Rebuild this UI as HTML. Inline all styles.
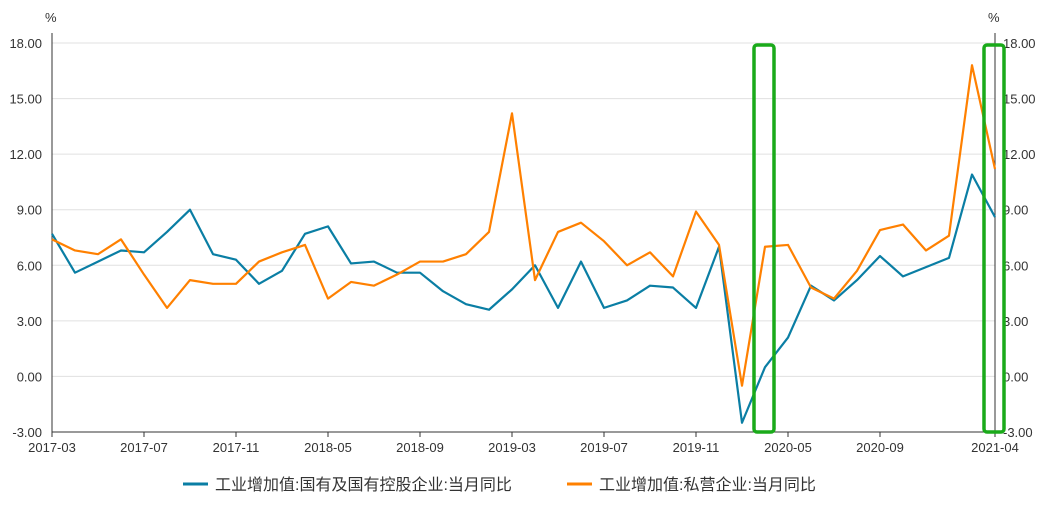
<!DOCTYPE html>
<html><head><meta charset="utf-8"><style>
body{margin:0;background:#fff;}
svg text{font-family:"Liberation Sans","Noto Sans CJK SC",sans-serif;fill:#333;}
</style></head><body>
<svg id="c" width="1048" height="500" xmlns="http://www.w3.org/2000/svg"></svg>
<script>
const categories=["2017-03","2017-04","2017-05","2017-06","2017-07","2017-08","2017-09","2017-10","2017-11","2017-12",
"2018-03","2018-04","2018-05","2018-06","2018-07","2018-08","2018-09","2018-10","2018-11","2018-12",
"2019-03","2019-04","2019-05","2019-06","2019-07","2019-08","2019-09","2019-10","2019-11","2019-12",
"2020-03","2020-04","2020-05","2020-06","2020-07","2020-08","2020-09","2020-10","2020-11","2020-12",
"2021-03","2021-04"];
const stateOwned=[7.7,5.6,6.2,6.8,6.7,7.8,9.0,6.6,6.3,5.0,5.7,7.7,8.1,6.1,6.2,5.6,5.6,4.6,3.9,3.6,4.7,6.0,3.7,6.2,3.7,4.1,4.9,4.8,3.7,7.0,-2.5,0.5,2.1,4.9,4.1,5.2,6.5,5.4,5.9,6.4,10.9,8.6];
const privateEnt=[7.4,6.8,6.6,7.4,5.5,3.7,5.2,5.0,5.0,6.2,6.7,7.1,4.2,5.1,4.9,5.5,6.2,6.2,6.6,7.8,14.2,5.2,7.8,8.3,7.3,6.0,6.7,5.4,8.9,7.1,-0.5,7.0,7.1,4.8,4.2,5.7,7.9,8.2,6.8,7.6,16.8,11.2];
const yTicks=[-3,0,3,6,9,12,15,18];
const xTickLabels=["2017-03","2017-07","2017-11","2018-05","2018-09","2019-03","2019-07","2019-11","2020-05","2020-09","2021-04"];
const highlightCats=["2020-04","2021-04"];
const seriesNames=["工业增加值:国有及国有控股企业:当月同比","工业增加值:私营企业:当月同比"];

const svg=document.getElementById('c');const NS="http://www.w3.org/2000/svg";
const L=52,R=995,T=43,B=432;
const x=i=>L+(R-L)*i/(categories.length-1);
const y=v=>B-(v+3)/21*(B-T);
function mk(tag,a,p){const e=document.createElementNS(NS,tag);for(const k in a)e.setAttribute(k,a[k]);(p||svg).appendChild(e);return e;}
yTicks.forEach(v=>{
 const g=mk('line',{x1:L,x2:R,y1:y(v),y2:y(v),stroke:v===-3?'#333':'#e0e0e0','stroke-width':1});
 
 
 const t=mk('text',{x:42,y:y(v)+5,'text-anchor':'end','font-size':13});t.textContent=v.toFixed(2);
 
 
 const t2=mk('text',{x:1003,y:y(v)+5,'font-size':13});t2.textContent=v.toFixed(2);
 
 
});
let a=mk('line',{x1:L,x2:L,y1:T-10,y2:B,stroke:'#333'});
a=mk('line',{x1:R,x2:R,y1:T-10,y2:B,stroke:'#333'});
let u=mk('text',{x:45,y:22,'font-size':13});u.textContent='%';
u=mk('text',{x:988,y:22,'font-size':13});u.textContent='%';
xTickLabels.forEach(lb=>{const i=categories.indexOf(lb);
 const tk=mk('line',{x1:x(i),x2:x(i),y1:B,y2:B+5,stroke:'#333'});
 
 
 const t=mk('text',{x:x(i),y:B+20,'text-anchor':'middle','font-size':13});t.textContent=lb;
 
 
});
function line(vals,color,name){const p=mk('polyline',{points:vals.map((v,i)=>x(i)+','+y(v)).join(' '),fill:'none',stroke:color,'stroke-width':2.2,'stroke-linejoin':'round'});
 
 }
line(stateOwned,'#0a7ea4','state-owned-series');
line(privateEnt,'#ff8000','private-series');
highlightCats.forEach(c=>{const i=categories.indexOf(c);
 const r=mk('rect',{x:x(i)-11,y:T+2,width:20,height:B-T-2,rx:3,fill:'none',stroke:'#1aaa1a','stroke-width':3.5});
 
 
});
[[183,'#0a7ea4',0],[567,'#ff8000',1]].forEach(([lx,c,k])=>{
 const g=mk('g',{});
 
 
 mk('line',{x1:lx,x2:lx+25,y1:484,y2:484,stroke:c,'stroke-width':3},g);
 const t=mk('text',{x:lx+32,y:490,'font-size':16,fill:'#444'},g);t.textContent=seriesNames[k];
});
</script>
</body></html>
